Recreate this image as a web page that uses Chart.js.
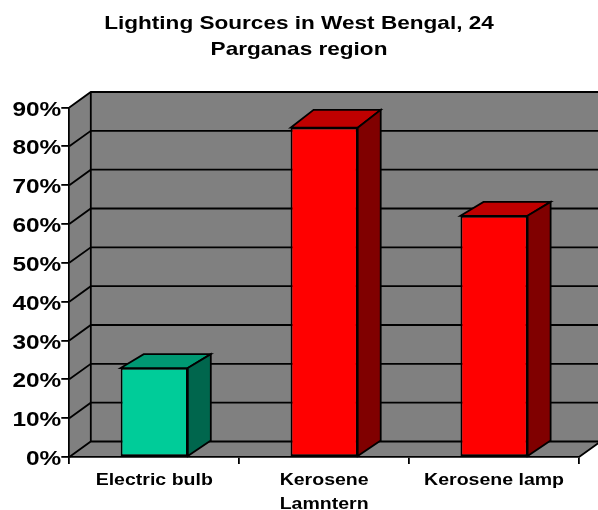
<!DOCTYPE html>
<html>
<head>
<meta charset="utf-8">
<title>Lighting Sources</title>
<script src="https://cdn.jsdelivr.net/npm/chart.js@4"></script>
<style>
  html, body { margin: 0; padding: 0; background: #fff; }
  canvas { display: block; }
</style>
</head>
<body>
<canvas id="lightingChart" width="598" height="510"></canvas>
<script>
const titleLines = ['Lighting Sources in West Bengal, 24', 'Parganas region'];
const categories = ['Electric bulb', ['Kerosene', 'Lamntern'], 'Kerosene lamp'];
// height of each bar at its front face and at its rear edge, in percent
const barValues = [22.9, 84.8, 62.1];
const rearValues = [22.5, 85.4, 61.7];

const frontColors = ['#00CC99', '#FF0000', '#FF0000'];
const topColors = ['#009973', '#BF0000', '#BF0000'];
const sideColors = ['#00664D', '#800000', '#800000'];

const WALL_GRAY = '#808080';
const LINE_WIDTH = 1.8;
const DEPTH_X = 21.5;   // walls and floor
const DEPTH_Y = 15.5;
const BAR_DEPTH_X = 23;
const TEXT_STRETCH = 1.22;
const FONT_FAMILY = '"Liberation Sans", Arial, sans-serif';

const canvas = document.getElementById('lightingChart');
const context = canvas.getContext('2d');

// all chart text is set wide, scaled sideways around its anchor point
const plainFillText = context.fillText;
context.fillText = function (text, x, y) {
    const drop = this.textBaseline === 'middle' ? 2.5 : 0;
    this.save();
    this.translate(x, y + drop);
    this.scale(TEXT_STRETCH, 1);
    plainFillText.call(this, text, 0, 0);
    this.restore();
};

function polygon(ctx, points, fill) {
    ctx.beginPath();
    points.forEach((p, i) => i ? ctx.lineTo(p[0], p[1]) : ctx.moveTo(p[0], p[1]));
    ctx.closePath();
    ctx.fillStyle = fill;
    ctx.fill();
}

// back wall, left wall and floor behind the axes
const boxPlugin = {
    id: 'box3d',
    beforeDraw(chart) {
        const { ctx, chartArea: area, scales: { y } } = chart;
        ctx.save();
        ctx.lineWidth = LINE_WIDTH;
        ctx.strokeStyle = '#000';

        const backLeft = area.left + DEPTH_X;
        const backRight = area.right + DEPTH_X;
        const backTop = area.top - DEPTH_Y;
        const backBottom = area.bottom - DEPTH_Y;

        ctx.fillStyle = WALL_GRAY;
        ctx.fillRect(backLeft, backTop, backRight - backLeft, backBottom - backTop);
        polygon(ctx, [[area.left, area.top], [backLeft, backTop], [backLeft, backBottom], [area.left, area.bottom]], WALL_GRAY);
        polygon(ctx, [[area.left, area.bottom], [backLeft, backBottom], [backRight, backBottom], [area.right, area.bottom]], WALL_GRAY);

        y.ticks.forEach(t => {
            const py = y.getPixelForValue(t.value);
            ctx.beginPath();
            ctx.moveTo(area.left, py);
            ctx.lineTo(backLeft, py - DEPTH_Y);
            ctx.lineTo(backRight, py - DEPTH_Y);
            ctx.stroke();
        });

        // back corner and the right edge of the floor
        ctx.beginPath();
        ctx.moveTo(backLeft, backTop);
        ctx.lineTo(backLeft, backBottom);
        ctx.moveTo(area.right, area.bottom);
        ctx.lineTo(backRight, backBottom);
        ctx.stroke();
        ctx.restore();
    },
    // top and right faces of each bar, the front face is the bar itself
    beforeDatasetsDraw(chart) {
        const { ctx, scales: { y } } = chart;
        ctx.save();
        ctx.lineWidth = LINE_WIDTH;
        ctx.strokeStyle = '#000';
        chart.getDatasetMeta(0).data.forEach((bar, i) => {
            const left = bar.x - bar.width / 2;
            const right = bar.x + bar.width / 2;
            const rearTop = y.getPixelForValue(rearValues[i]) - DEPTH_Y;
            polygon(ctx, [[left, bar.y], [left + BAR_DEPTH_X, rearTop], [right + BAR_DEPTH_X, rearTop], [right, bar.y]], topColors[i]);
            ctx.stroke();
            polygon(ctx, [[right, bar.y], [right + BAR_DEPTH_X, rearTop], [right + BAR_DEPTH_X, bar.base - DEPTH_Y], [right, bar.base]], sideColors[i]);
            ctx.stroke();
        });
        ctx.restore();
    }
};

new Chart(context, {
    type: 'bar',
    data: {
        labels: categories,
        datasets: [{
            data: barValues,
            yAxisID: 'y',
            backgroundColor: frontColors,
            borderColor: '#000',
            borderWidth: LINE_WIDTH,
            borderSkipped: false,
            categoryPercentage: 1,
            barPercentage: 0.395
        }]
    },
    options: {
        responsive: false,
        animation: false,
        plugins: {
            legend: { display: false },
            tooltip: { enabled: false },
            title: {
                display: true,
                text: titleLines,
                color: '#000',
                font: { family: FONT_FAMILY, size: 18.5, weight: 'bold', lineHeight: 1.405 },
                padding: { top: 8.6, bottom: 46.9 }
            }
        },
        scales: {
            x: {
                grid: { offset: true, drawOnChartArea: false, color: '#000', lineWidth: LINE_WIDTH, tickLength: 7 },
                border: { color: '#000', width: LINE_WIDTH },
                ticks: {
                    color: '#000',
                    padding: 2,
                    maxRotation: 0,
                    autoSkip: false,
                    font: { family: FONT_FAMILY, size: 16, weight: 'bold', lineHeight: 1.5 }
                },
                afterFit(scale) { scale.height = 53; }
            },
            y: {
                min: 0,
                max: 90,
                grid: { drawOnChartArea: false, color: '#000', lineWidth: LINE_WIDTH, tickLength: 8 },
                border: { color: '#000', width: LINE_WIDTH },
                ticks: {
                    stepSize: 10,
                    color: '#000',
                    padding: 0,
                    font: { family: FONT_FAMILY, size: 20, weight: 'bold' },
                    callback: v => v + '%'
                },
                afterFit(scale) { scale.width = 69.3; }
            },
            // empty gutter on the right, keeps the title centred on the whole canvas
            gutter: {
                type: 'linear',
                position: 'right',
                grid: { display: false },
                border: { display: false },
                ticks: { display: false },
                afterFit(scale) { scale.width = 19; }
            }
        }
    },
    plugins: [boxPlugin]
});
</script>
</body>
</html>
